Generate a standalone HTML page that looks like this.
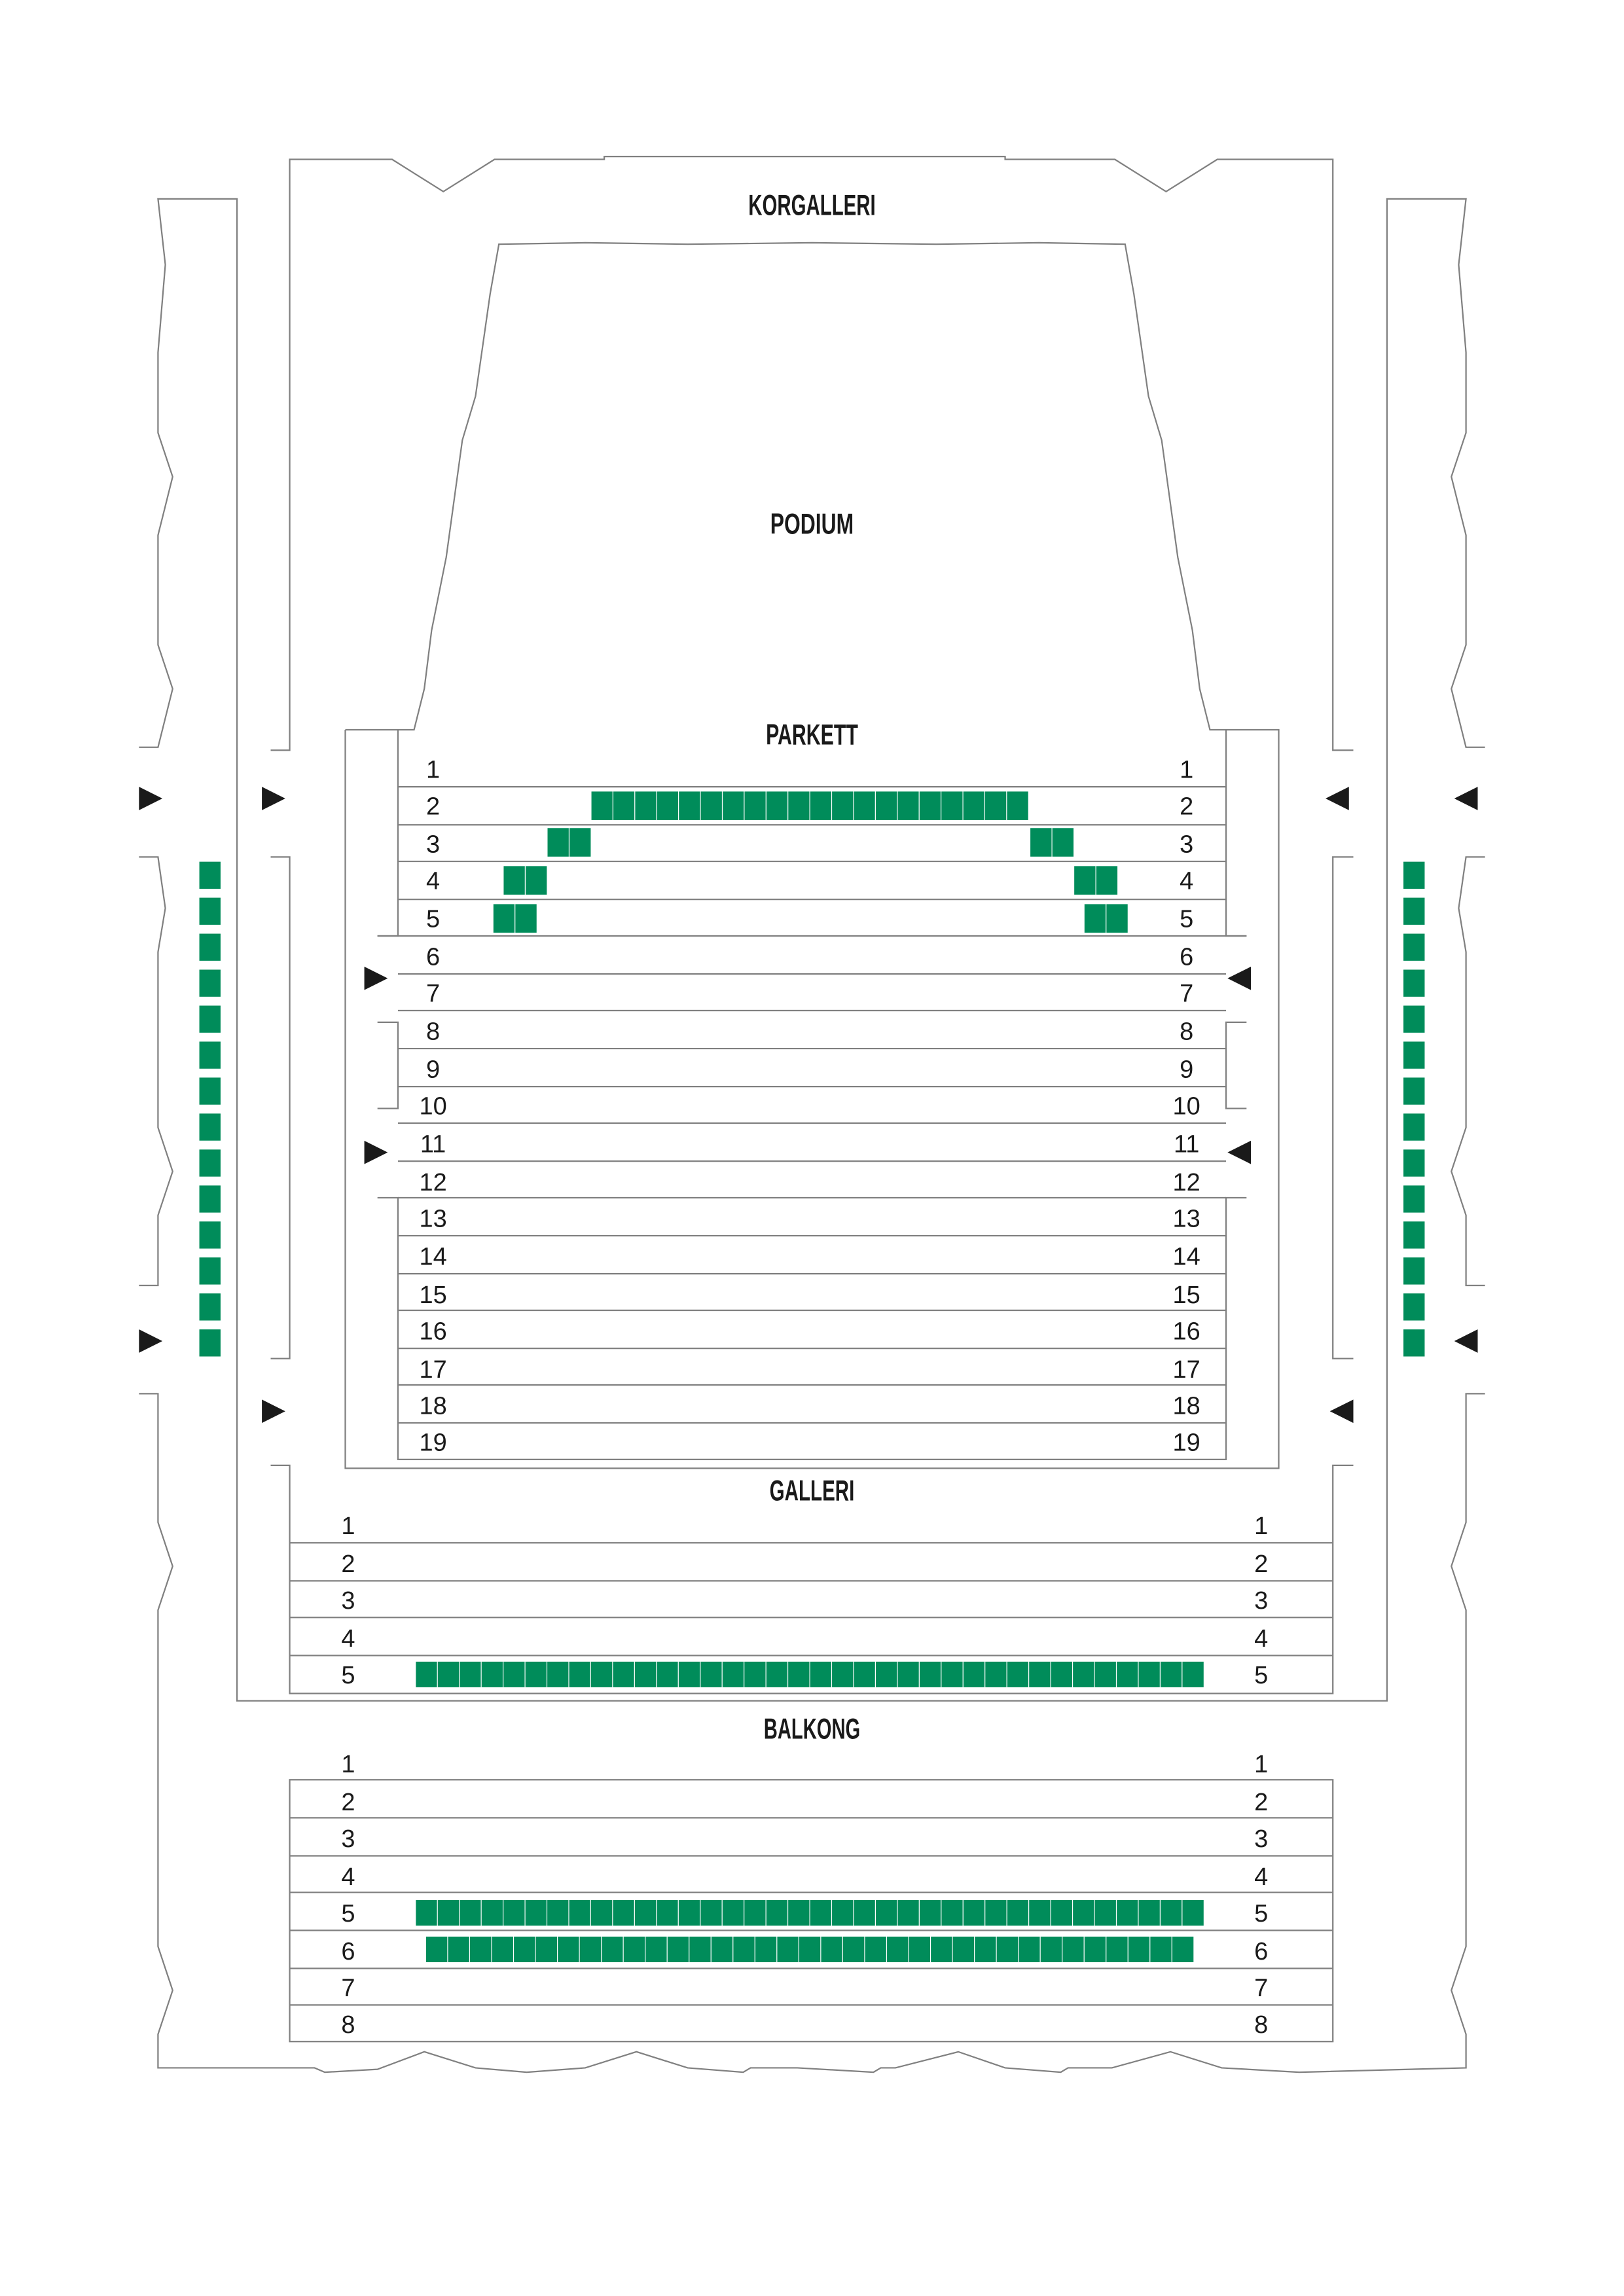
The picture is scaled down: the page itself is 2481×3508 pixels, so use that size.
<!DOCTYPE html>
<html><head><meta charset="utf-8"><style>
html,body{margin:0;padding:0;background:#fff}
svg{display:block}
.l{fill:none;stroke:#808080;stroke-width:1}
.t{font-family:"Liberation Sans",sans-serif;font-size:17px;fill:#1a1a1a;text-anchor:middle}
.h{font-family:"Liberation Sans Narrow","Liberation Sans",sans-serif;font-weight:bold;font-size:20px;fill:#1a1a1a;text-anchor:middle}
.a{fill:#1a1a1a}
</style></head><body>
<svg id="s" width="2481" height="3508" viewBox="0 0 1110 1570" preserveAspectRatio="none" xmlns="http://www.w3.org/2000/svg">
<g class="l" id="lines">
<polyline points="95,511 108,511 118,471 108,441 108,366 118,326 108,296 108,241 113,181 108,136 162,136 162,1163 948,1163 948,136 1002,136 997,181 1002,241 1002,296 992,326 1002,366 1002,441 992,471 1002,511 1015,511"/>
<polyline points="95,586 108,586 113,621 108,651 108,771 118,801 108,831 108,879 95,879"/>
<polyline points="1015,586 1002,586 997,621 1002,651 1002,771 992,801 1002,831 1002,879 1015,879"/>
<polyline points="95,953 108,953 108,1041 118,1071 108,1101 108,1331 118,1361 108,1391 108,1414 215,1414 222,1417 258,1415 290,1403 325,1414 360,1417 400,1414 435,1403 470,1414 508,1417 513,1414 545,1414 597,1417 602,1414 612,1414 655,1403 687,1414 725,1417 730,1414 760,1414 800,1403 835,1414 888,1417 1002,1414 1002,1391 992,1361 1002,1331 1002,1101 992,1071 1002,1041 1002,953 1015,953"/>
<polyline points="185,513 198,513 198,109 268,109 303,131 338,109 413,109 413,107 687,107 687,109 762,109 797,131 832,109 911,109 911,513 925,513"/>
<polyline points="185,586 198,586 198,929 185,929"/>
<polyline points="925,586 911,586 911,929 925,929"/>
<polyline points="236,499 283,499 290,471 295,431 305,381 316,301 325,271 335,201 341,167 400,166 470,167 555,166 640,167 710,166 769,167 775,201 785,271 794,301 805,381 815,431 820,471 827,499 874,499 874,1004 236,1004 236,499"/>
<polyline points="185,1002 198,1002 198,1158 911,1158 911,1002 925,1002"/>
<rect x="198" y="1217" width="713" height="179"/>
<polyline points="272,499 272,640 258,640"/>
<polyline points="838,499 838,640 852,640"/>
<polyline points="258,699 272,699 272,758 258,758"/>
<polyline points="852,699 838,699 838,758 852,758"/>
<polyline points="258,819 272,819 272,998 838,998 838,819 852,819"/>
</g>
<g class="a">
<polygon points="95,538 111,546 95,554"/><polygon points="179,538 195,546 179,554"/>
<polygon points="249,661 265,669 249,677"/><polygon points="249,780 265,788 249,796"/>
<polygon points="95,909 111,917 95,925"/><polygon points="179,957 195,965 179,973"/>
<polygon points="922,538 906,546 922,554"/><polygon points="1010,538 994,546 1010,554"/>
<polygon points="855,661 839,669 855,677"/><polygon points="855,780 839,788 855,796"/>
<polygon points="1010,909 994,917 1010,925"/><polygon points="925,957 909,965 925,973"/>
</g>
<g id="seats" fill="#008c5a" stroke="#fff" stroke-width="0.5"></g>
<text class="h" x="555" y="147" textLength="87" lengthAdjust="spacingAndGlyphs">KORGALLERI</text>
<text class="h" x="555" y="365" textLength="57" lengthAdjust="spacingAndGlyphs">PODIUM</text>
<text class="h" x="555" y="509" textLength="63" lengthAdjust="spacingAndGlyphs">PARKETT</text>
<text class="h" x="555" y="1026" textLength="58" lengthAdjust="spacingAndGlyphs">GALLERI</text>
<text class="h" x="555" y="1189" textLength="66" lengthAdjust="spacingAndGlyphs">BALKONG</text>
<g class="t">
<text x="296" y="532">1</text><text x="811" y="532">1</text>
<text x="296" y="557">2</text><text x="811" y="557">2</text>
<text x="296" y="583">3</text><text x="811" y="583">3</text>
<text x="296" y="608">4</text><text x="811" y="608">4</text>
<text x="296" y="634">5</text><text x="811" y="634">5</text>
<text x="296" y="660">6</text><text x="811" y="660">6</text>
<text x="296" y="685">7</text><text x="811" y="685">7</text>
<text x="296" y="711">8</text><text x="811" y="711">8</text>
<text x="296" y="737">9</text><text x="811" y="737">9</text>
<text x="296" y="762">10</text><text x="811" y="762">10</text>
<text x="296" y="788">11</text><text x="811" y="788">11</text>
<text x="296" y="814">12</text><text x="811" y="814">12</text>
<text x="296" y="839">13</text><text x="811" y="839">13</text>
<text x="296" y="865">14</text><text x="811" y="865">14</text>
<text x="296" y="891">15</text><text x="811" y="891">15</text>
<text x="296" y="916">16</text><text x="811" y="916">16</text>
<text x="296" y="942">17</text><text x="811" y="942">17</text>
<text x="296" y="967">18</text><text x="811" y="967">18</text>
<text x="296" y="992">19</text><text x="811" y="992">19</text>
<text x="238" y="1049">1</text><text x="862" y="1049">1</text>
<text x="238" y="1075">2</text><text x="862" y="1075">2</text>
<text x="238" y="1100">3</text><text x="862" y="1100">3</text>
<text x="238" y="1126">4</text><text x="862" y="1126">4</text>
<text x="238" y="1151">5</text><text x="862" y="1151">5</text>
<text x="238" y="1212">1</text><text x="862" y="1212">1</text>
<text x="238" y="1238">2</text><text x="862" y="1238">2</text>
<text x="238" y="1263">3</text><text x="862" y="1263">3</text>
<text x="238" y="1289">4</text><text x="862" y="1289">4</text>
<text x="238" y="1314">5</text><text x="862" y="1314">5</text>
<text x="238" y="1340">6</text><text x="862" y="1340">6</text>
<text x="238" y="1365">7</text><text x="862" y="1365">7</text>
<text x="238" y="1390">8</text><text x="862" y="1390">8</text>
</g>
</svg>
<script>
var NS="http://www.w3.org/2000/svg";
var L=document.getElementById("lines"),S=document.getElementById("seats");
function ln(x1,y,x2){var e=document.createElementNS(NS,"line");e.setAttribute("x1",x1);e.setAttribute("x2",x2);e.setAttribute("y1",y);e.setAttribute("y2",y);L.appendChild(e);}
function row(x,y,n,w,h){for(var i=0;i<n;i++){var r=document.createElementNS(NS,"rect");r.setAttribute("x",x+i*w);r.setAttribute("y",y);r.setAttribute("width",w);r.setAttribute("height",h);S.appendChild(r);}}
[538,564,589,615,666,691,717,743,768,794,845,871,896,922,947,973].forEach(function(y){ln(272,y,838);});
ln(258,640,852);ln(272,819,838);
[1055,1081,1106,1132].forEach(function(y){ln(198,y,911);});
[1243,1269,1294,1320,1346,1371].forEach(function(y){ln(198,y,911);});
row(404,541,20,14.95,20);
row(374,566,2,15,20);row(704,566,2,15,20);
row(344,592,2,15,20);row(734,592,2,15,20);
row(337,618,2,15,20);row(741,618,2,15,20);
for(var i=0;i<14;i++){row(136,589+i*24.6,1,15,19);row(959,589+i*24.6,1,15,19);}
row(284,1136,36,14.97,18);
row(284,1299,36,14.97,18);
row(291,1324,35,15,18);
</script>
</body></html>
